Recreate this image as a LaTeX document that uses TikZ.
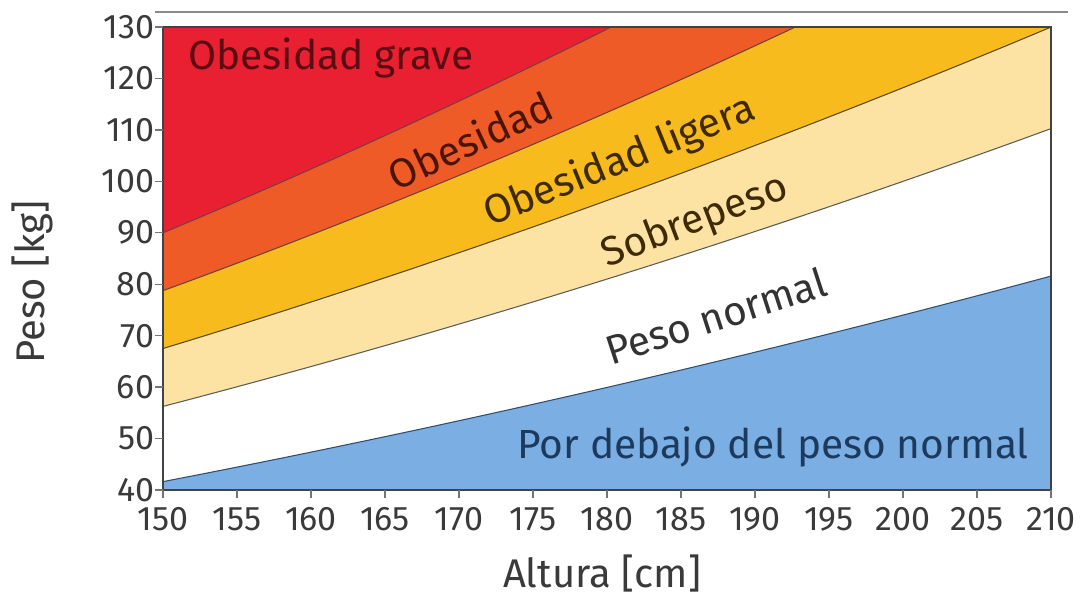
\documentclass[tikz,border=0pt]{standalone}
\usepackage{fontspec}
\setmainfont{Fira Sans}
\definecolor{cRed}{HTML}{E91F32}
\definecolor{cOrange}{HTML}{EF5B27}
\definecolor{cYellow}{HTML}{F8BB1D}
\definecolor{cLight}{HTML}{FCE3A3}
\definecolor{cBlue}{HTML}{7BAEE2}
\definecolor{cFrame}{HTML}{3F4246}
\definecolor{cTick}{HTML}{3A3A3A}
\definecolor{cTopLine}{HTML}{8A8A8A}
\definecolor{tRed}{HTML}{5A0C12}
\definecolor{tOrange}{HTML}{4A1406}
\definecolor{tYellow}{HTML}{3E2A06}
\definecolor{tGray}{HTML}{333333}
\definecolor{tBlue}{HTML}{1B3A5E}
\tikzset{
  bound/.style={line width=0.8pt, draw=#1},
  framebox/.style={draw=cFrame, line width=2pt},
  tickmark/.style={draw=cTick!70, line width=1pt},
  ticklab/.style={text=cTick, font=\fontsize{25.5}{30}\selectfont, inner sep=0pt},
  axlab/.style={text=cTick, font=\fontsize{30}{35}\selectfont, inner sep=0pt},
  zonelab/.style={font=\fontsize{30.5}{35}\selectfont, inner sep=0pt},
}
\begin{document}
\begin{tikzpicture}[x=0.75pt,y=0.75pt]
\useasboundingbox (0,0) rectangle (1086,599);
\fill[white] (0,0) rectangle (1086,599);
% top gray line
\coordinate (tlA) at (155,587);
\coordinate (tlB) at (1068,587);
\draw[cTopLine, line width=1.6pt] (tlA) -- (tlB);
\begin{scope}[xshift=122.25pt, yshift=81.75pt, x=11.1pt, y=3.858pt]
  \fill[cRed] (0,0) rectangle (60,90);
  \fill[cOrange] (0,0) -- (0,50) -- plot[domain=0:30.278, samples=40, variable=\t] ({\t},{40*((\t+150)/100)^2-40}) -- (60,90) -- (60,0) -- cycle;
  \fill[cYellow] (0,0) -- (0,38.75) -- plot[domain=0:42.725, samples=40, variable=\t] ({\t},{35*((\t+150)/100)^2-40}) -- (60,90) -- (60,0) -- cycle;
  \fill[cLight] (0,0) -- (0,27.5) -- plot[domain=0:60, samples=40, variable=\t] ({\t},{67.5*((\t+150)/150)^1.948-40}) -- (60,90) -- (60,0) -- cycle;
  \fill[white] (0,0) -- (0,16.25) -- plot[domain=0:60, samples=40, variable=\t] ({\t},{25*((\t+150)/100)^2-40}) -- (60,0) -- cycle;
  \fill[cBlue] (0,0) -- (0,1.625) -- plot[domain=0:60, samples=40, variable=\t] ({\t},{18.5*((\t+150)/100)^2-40}) -- (60,0) -- cycle;
  \draw[bound=tRed!80] plot[domain=0:30.278, samples=40, variable=\t] ({\t},{40*((\t+150)/100)^2-40});
  \draw[bound=tOrange!80] plot[domain=0:42.725, samples=40, variable=\t] ({\t},{35*((\t+150)/100)^2-40});
  \draw[bound=tYellow!85] plot[domain=0:60, samples=40, variable=\t] ({\t},{67.5*((\t+150)/150)^1.948-40});
  \draw[bound=tGray!80] plot[domain=0:60, samples=40, variable=\t] ({\t},{25*((\t+150)/100)^2-40});
  \draw[bound=tBlue!90] plot[domain=0:60, samples=40, variable=\t] ({\t},{18.5*((\t+150)/100)^2-40});
  \coordinate (fSW) at (0,0);
  \coordinate (fNE) at (60,90);
  \draw[framebox] (fSW) rectangle (fNE);
  % y ticks
  \foreach \w in {40,50,...,130} {
    \coordinate (yt\w) at (0,\w-40);
    \draw[tickmark] (yt\w) -- ++(-6pt,0);
    \node[ticklab, anchor=east] (yl\w) at ([xshift=-6.5pt]yt\w) {\w};
  }
  % x ticks
  \foreach \h in {150,155,...,210} {
    \coordinate (xt\h) at (\h-150,0);
    \draw[tickmark] (xt\h) -- ++(0,-6pt);
    \node[ticklab, anchor=north] (xl\h) at ([yshift=-13pt]xt\h) {\h};
  }
\end{scope}
\node[axlab, rotate=90] (ylab) at (32,317) {Peso [kg]};
\node[axlab] (xlab) at (602,25) {Altura [cm]};
\node[zonelab, text=tRed, anchor=west] (zgrave) at (188,541) {Obesidad grave};
\node[zonelab, text=tOrange, rotate=25] (zob) at (470,459) {Obesidad};
\node[zonelab, text=tYellow, rotate=22] (zlig) at (620,437) {Obesidad ligera};
\node[zonelab, text=tYellow, rotate=21] (zsob) at (695,377) {Sobrepeso};
\node[zonelab, text=tGray, rotate=18] (znorm) at (716,283) {Peso normal};
\node[zonelab, text=tBlue] (zbajo) at (773,152) {Por debajo del peso normal};
\end{tikzpicture}
\end{document}
